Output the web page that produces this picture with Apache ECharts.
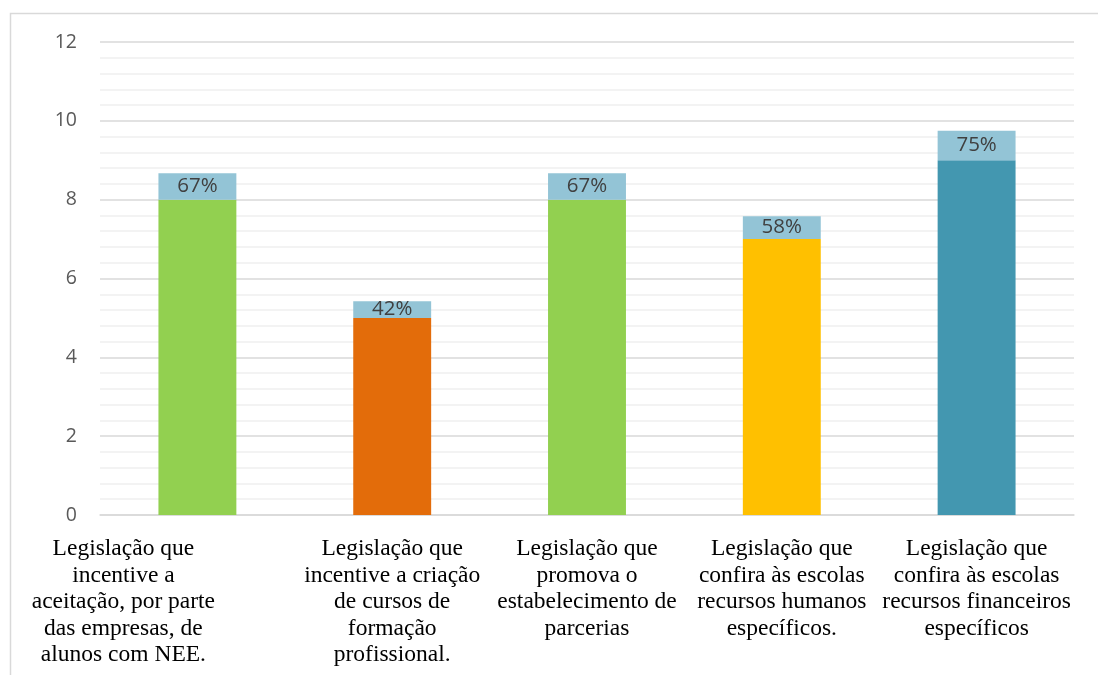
<!DOCTYPE html>
<html>
<head>
<meta charset="utf-8">
<script src="https://cdn.jsdelivr.net/npm/echarts@6/dist/echarts.min.js"></script>
<style>
  html, body { margin: 0; padding: 0; background: #fff; }
  #chart { width: 1098px; height: 675px; }
</style>
</head>
<body>
<div id="chart"></div>
<script>
// categories (line breaks as in the original)
const categories = [
    'Legislação que\nincentive a\naceitação, por parte\ndas empresas, de\nalunos com NEE.',
    'Legislação que\nincentive a criação\nde cursos de\nformação\nprofissional.',
    'Legislação que\npromova o\nestabelecimento de\nparcerias',
    'Legislação que\nconfira às escolas\nrecursos humanos\nespecíficos.',
    'Legislação que\nconfira às escolas\nrecursos financeiros\nespecíficos'
];
const counts = [8, 5, 8, 7, 9];
const shares = [0.67, 0.42, 0.67, 0.58, 0.75];
const barColors = ['#92D050', '#E36C0A', '#92D050', '#FFC000', '#4397B0'];

let chart = echarts.init(document.getElementById('chart'));

let option = {
    animation: false,
    graphic: [{
        type: 'rect',
        shape: {x: 10.5, y: 13.5, width: 1200, height: 800},
        style: {fill: 'none', stroke: '#d9d9d9', lineWidth: 1.5},
        silent: true
    }],
    grid: {left: 100, right: 24, top: 42, bottom: 160},
    xAxis: {
        type: 'category',
        data: categories.map(function (c, i) {
            // first label sits shifted left in the original
            return i === 0 ? {value: c, textStyle: {padding: [0, 148, 0, 0]}} : c;
        }),
        axisLine: {lineStyle: {color: '#d9d9d9', width: 1.5}},
        axisTick: {show: false},
        axisLabel: {
            interval: 0,
            margin: 21,
            fontFamily: '"Liberation Serif", "Times New Roman", serif',
            fontSize: 23.5,
            lineHeight: 26.5,
            color: '#000'
        }
    },
    yAxis: {
        type: 'value',
        min: 0,
        max: 12,
        interval: 2,
        axisLine: {show: false},
        axisTick: {show: false},
        axisLabel: {
            margin: 23,
            fontFamily: '"Open Sans", "Liberation Sans", sans-serif',
            fontSize: 19.5,
            color: '#595959'
        },
        splitLine: {lineStyle: {color: '#d9d9d9', width: 1.5}},
        minorTick: {show: false, splitNumber: 5},
        minorSplitLine: {show: true, lineStyle: {color: '#f0f0f0', width: 1.5}}
    },
    series: [{
        type: 'bar',
        stack: 'total',
        barWidth: '40%',
        data: counts.map(function (v, i) {
            return {value: v, itemStyle: {color: barColors[i]}};
        })
    }, {
        type: 'bar',
        stack: 'total',
        barWidth: '40%',
        itemStyle: {color: '#93C4D6'},
        label: {
            show: true,
            position: 'inside',
            fontFamily: '"Open Sans", "Liberation Sans", sans-serif',
            fontSize: 20.5,
            color: '#404040',
            formatter: function (p) { return Math.round(p.value * 100) + '%'; }
        },
        data: shares
    }]
};
chart.setOption(option);
</script>
</body>
</html>
